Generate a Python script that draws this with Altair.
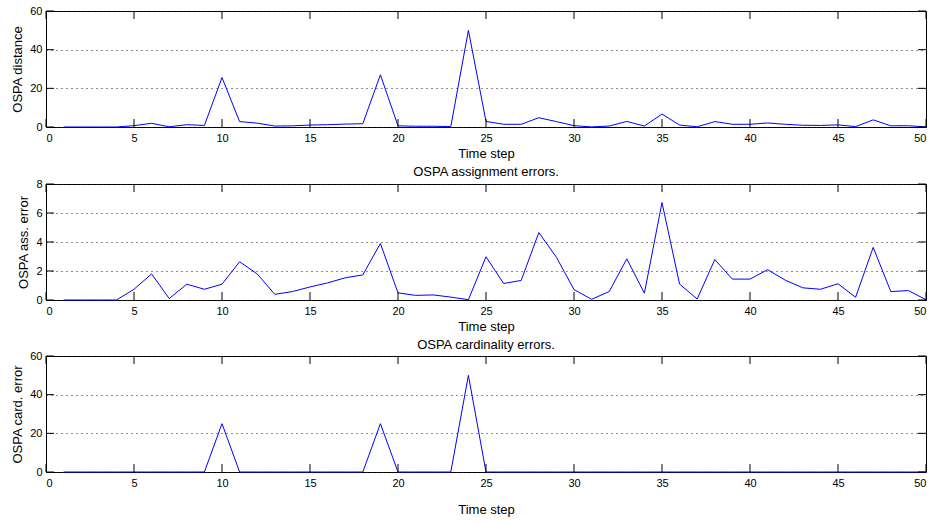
import altair as alt
import pandas as pd

# ---- data ----
time_step = list(range(1, 51))
ospa_distance = [0, 0, 0, 0, 0.7, 1.9, 0.1, 1.2, 0.8, 25.6,
                 2.8, 2.0, 0.5, 0.6, 1.0, 1.2, 1.5, 1.7, 27.0, 0.6,
                 0.4, 0.4, 0.2, 50.0, 2.9, 1.4, 1.4, 4.8, 2.8, 0.7,
                 0.05, 0.5, 2.9, 0.5, 6.7, 1.0, 0.1, 2.8, 1.4, 1.4,
                 2.1, 1.4, 0.9, 0.8, 1.1, 0.2, 3.7, 0.6, 0.65, 0.05]
ospa_ass = [0, 0, 0, 0, 0.74, 1.8, 0.1, 1.09, 0.74, 1.09,
            2.64, 1.8, 0.39, 0.58, 0.9, 1.18, 1.53, 1.73, 3.9, 0.49,
            0.32, 0.35, 0.2, 0.02, 2.98, 1.14, 1.35, 4.65, 2.95, 0.72,
            0.05, 0.58, 2.84, 0.47, 6.72, 1.09, 0.07, 2.79, 1.44, 1.44,
            2.09, 1.37, 0.84, 0.74, 1.12, 0.19, 3.63, 0.58, 0.65, 0.02]
ospa_card = [0, 0, 0, 0, 0, 0, 0, 0, 0, 25,
             0, 0, 0, 0, 0, 0, 0, 0, 25, 0,
             0, 0, 0, 50, 0, 0, 0, 0, 0, 0,
             0, 0, 0, 0, 0, 0, 0, 0, 0, 0,
             0, 0, 0, 0, 0, 0, 0, 0, 0, 0]
x_ticks = [0, 5, 10, 15, 20, 25, 30, 35, 40, 45, 50]
y_ticks_dist = [0, 20, 40, 60]
y_ticks_ass = [0, 2, 4, 6, 8]
y_ticks_card = [0, 20, 40, 60]

W, H, TL = 880, 116, 8
FONT = "Liberation Sans"

df = pd.DataFrame({"t": time_step, "dist": ospa_distance,
                   "ass": ospa_ass, "card": ospa_card})


def panel(field, ylabel, ymax, yticks, title=None, title_offset=-1, xtitle_pad=4):
    xs = alt.Scale(domain=[0, 50], nice=False, zero=False)
    ys = alt.Scale(domain=[0, ymax], nice=False)
    xaxis = alt.Axis(values=x_ticks, ticks=False, domain=False, grid=False,
                     labelPadding=5, titlePadding=xtitle_pad)
    yaxis = alt.Axis(values=yticks, ticks=False, domain=False, grid=True,
                     gridDash=[1, 4], gridColor="#222", gridWidth=1,
                     labelPadding=4, titlePadding=5)
    X = alt.X("t:Q", scale=xs, title="Time step", axis=xaxis)
    Y = alt.Y(f"{field}:Q", scale=ys, title=ylabel, axis=yaxis)
    line = alt.Chart(df).mark_line(color="#0000ff", strokeWidth=1).encode(x=X, y=Y)
    xt = pd.DataFrame({"t": x_ticks})
    yt = pd.DataFrame({field: yticks})
    top = alt.Chart(xt).mark_rule(color="black").encode(
        x=X, y=alt.value(0), y2=alt.value(TL))
    bot = alt.Chart(xt).mark_rule(color="black").encode(
        x=X, y=alt.value(H - TL), y2=alt.value(H))
    left = alt.Chart(yt).mark_rule(color="black").encode(
        y=Y, x=alt.value(0), x2=alt.value(TL))
    right = alt.Chart(yt).mark_rule(color="black").encode(
        y=Y, x=alt.value(W - TL), x2=alt.value(W))
    props = dict(width=W, height=H)
    if title:
        props["title"] = alt.TitleParams(title, fontSize=13, font=FONT,
                                         fontWeight="normal", anchor="middle",
                                         offset=title_offset, color="black")
    return alt.layer(line, top, bot, left, right).properties(**props)


p1 = panel("dist", "OSPA distance", 60, y_ticks_dist)
p2 = panel("ass", "OSPA ass. error", 8, y_ticks_ass, "OSPA assignment errors.")
p3 = panel("card", "OSPA card. error", 60, y_ticks_card, "OSPA cardinality errors.",
           title_offset=-2, xtitle_pad=15)

chart = alt.vconcat(p1, p2, p3, spacing=4).properties(
    padding={"left": 11, "top": 4, "right": 0, "bottom": 0},
    background="white",
).configure_view(stroke="black", strokeWidth=1).configure_axis(
    labelFont=FONT, labelFontSize=11, labelColor="black",
    titleFont=FONT, titleFontSize=13, titleFontWeight="normal", titleColor="black",
)

chart.save("out.html", embed_options={"renderer": "svg", "actions": False})
